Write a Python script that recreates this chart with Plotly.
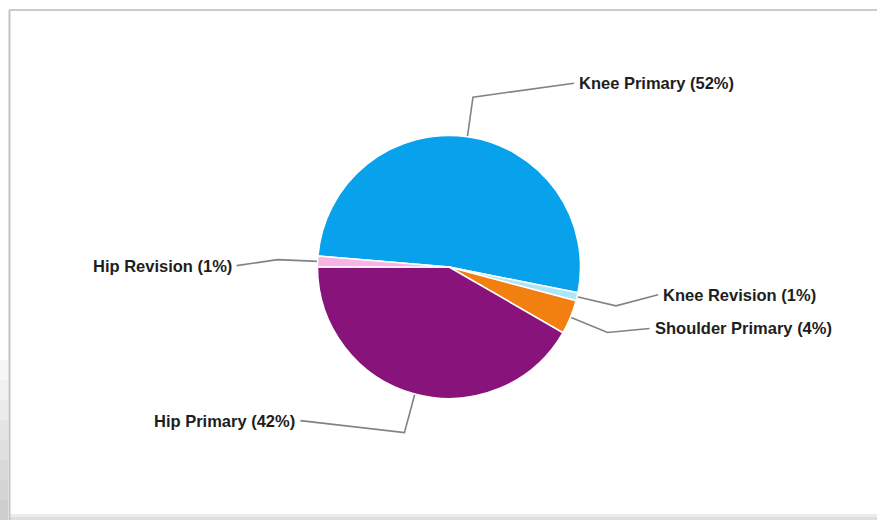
import math
import plotly.graph_objects as go

# ---- data ----
labels = ["Knee Primary", "Knee Revision", "Shoulder Primary", "Hip Primary", "Hip Revision"]
values = [51.8, 1.0, 4.2, 41.7, 1.3]
pct_labels = ["52%", "1%", "4%", "42%", "1%"]

# ---- styles / layout ----
colors = ["#08A1EC", "#AEE6F9", "#F28011", "#87137B", "#F6B3E4"]
W, H = 877, 520
CX, CY, R = 449, 267, 131.5
ROTATION = -85.2          # where the first slice starts (deg clockwise from 12 o'clock)
ELBOW = 40                # radial length of first leader segment (px)
# horizontal segment offsets of each label from its elbow (px)
label_dx = [101, 42, 42, -104, -41]
label_dy = [-14, -11, -4, -12, 6]

fig = go.Figure()

dom_x = [(CX - R) / W, (CX + R) / W]
dom_y = [(H - CY - R) / H, (H - CY + R) / H]
fig.add_trace(go.Pie(
    labels=labels, values=values, sort=False, direction="clockwise",
    rotation=ROTATION, textinfo="none", hoverinfo="label+percent",
    marker=dict(colors=colors, line=dict(color="white", width=1.5)),
    domain=dict(x=dom_x, y=dom_y), showlegend=False,
))

total = sum(values)
cum = 0.0
for i, v in enumerate(values):
    mid = math.radians(ROTATION + 360.0 * (cum + v / 2.0) / total)
    cum += v
    ex, ey = CX + R * math.sin(mid), CY - R * math.cos(mid)
    bx, by = CX + (R + ELBOW) * math.sin(mid), CY - (R + ELBOW) * math.cos(mid)
    lx, ly = bx + label_dx[i], by + label_dy[i]
    fig.add_trace(go.Scatter(
        x=[ex, bx, lx], y=[ey, by, ly], mode="lines",
        line=dict(color="#828282", width=1.6), hoverinfo="skip", showlegend=False,
    ))
    right = label_dx[i] > 0
    fig.add_annotation(
        x=lx + (3 if right else -3), y=ly, xref="x", yref="y",
        text=f"<b>{labels[i]} ({pct_labels[i]})</b>", showarrow=False,
        xanchor="left" if right else "right", yanchor="middle",
        font=dict(family="Liberation Sans, Arial, sans-serif", size=16.5, color="#1e1e1e"),
    )

# frame and soft shadows
shapes = []
for k in range(8):
    y0 = 360 + k * 20
    shapes.append(dict(type="rect", xref="x", yref="y", x0=0, x1=8, y0=y0, y1=y0 + 20,
                       fillcolor="#bdbdbd", line=dict(width=0),
                       opacity=0.12 + 0.09 * k, layer="below"))
shapes += [
    dict(type="rect", xref="x", yref="y", x0=10, x1=W, y0=514, y1=517,
         fillcolor="#ececec", line=dict(width=0), layer="below"),
    dict(type="rect", xref="x", yref="y", x0=10, x1=W, y0=517, y1=520,
         fillcolor="#dedede", line=dict(width=0), layer="below"),
    dict(type="line", xref="x", yref="y", x0=9, x1=W, y0=10, y1=10,
         line=dict(color="#cbcbcb", width=2)),
    dict(type="line", xref="x", yref="y", x0=9.5, x1=9.5, y0=10, y1=520,
         line=dict(color="#c4c4c4", width=2)),
]

fig.update_layout(
    width=W, height=H, margin=dict(l=0, r=0, t=0, b=0),
    paper_bgcolor="white", plot_bgcolor="white",
    xaxis=dict(range=[0, W], visible=False, fixedrange=True),
    yaxis=dict(range=[H, 0], visible=False, fixedrange=True),
    shapes=shapes,
)

fig.write_html("out.html")
